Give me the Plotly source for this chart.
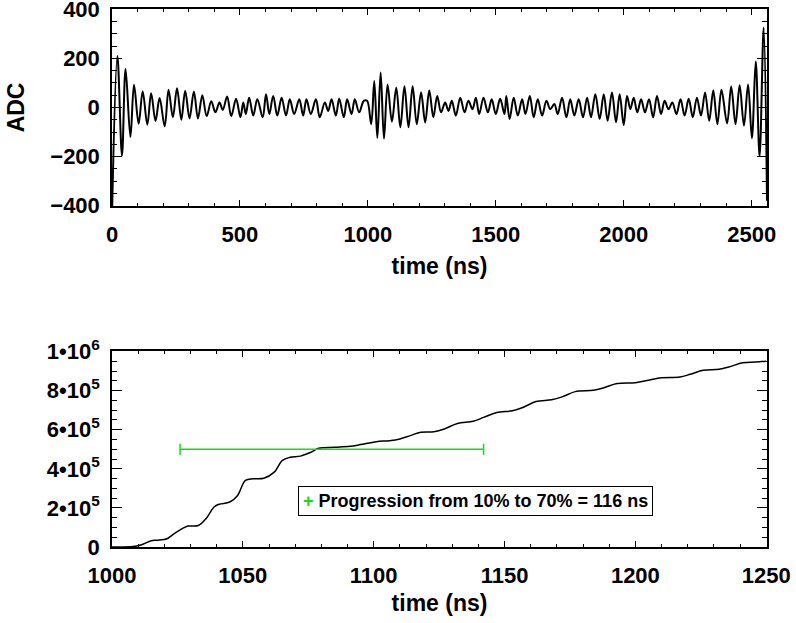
import plotly.graph_objects as go

# ADC waveform, read peak by peak from the top panel (ns, ADC)
wave_t = [0, 21, 39, 53, 72, 86, 104, 120, 138, 153, 170, 186, 206, 221, 238, 254, 271, 286, 303, 320,
          336, 353, 370, 388, 404, 420, 433, 450, 466, 485, 502, 513, 523, 536, 552, 568, 589, 602, 615, 630,
          646, 663, 680, 695, 712, 732, 747, 760, 777, 797, 812, 832, 845, 858, 875, 888, 906, 919, 936, 949,
          966, 984, 997, 1013, 1025, 1037, 1050, 1063, 1077, 1094, 1111, 1127, 1143, 1159, 1175, 1191, 1208, 1224, 1240, 1256,
          1271, 1286, 1302, 1315, 1328, 1344, 1361, 1378, 1393, 1409, 1422, 1435, 1452, 1469, 1484, 1500, 1517, 1534, 1541, 1554,
          1570, 1586, 1603, 1616, 1633, 1648, 1664, 1681, 1698, 1713, 1729, 1742, 1759, 1776, 1791, 1807, 1824, 1841, 1857, 1872,
          1889, 1906, 1922, 1937, 1954, 1970, 1984, 2000, 2013, 2026, 2039, 2053, 2068, 2083, 2099, 2115, 2130, 2146, 2160, 2175,
          2190, 2206, 2222, 2238, 2254, 2270, 2286, 2302, 2318, 2334, 2350, 2366, 2382, 2404, 2420, 2437, 2453, 2470, 2486, 2501,
          2516, 2531, 2547, 2560]
wave_adc = [-440, 210, -196, 157, -120, 92, -66, 65, -70, 58, -55, 38, -77, 72, -40, 78, -50, 68, -45, 65,
            -45, 50, -35, 25, -20, 20, -10, 45, -35, 35, -40, 20, -27, 40, -33, 33, -40, 54, -27, 47,
            -33, 40, -33, 33, -27, 33, -33, 33, -27, 33, -40, 20, -14, 33, -33, 35, -40, 33, -27, 33,
            -20, 27, 27, -68, 108, -124, 142, -127, 94, -58, 80, -81, 86, -81, 86, -68, 61, -61, 69, -40,
            47, -20, 20, -14, 27, -33, 40, -20, 27, -7, 40, -27, 40, -20, 33, -27, 35, -27, 47, -47,
            40, -33, 33, -27, 47, -40, 33, -33, 27, -7, 14, -27, 40, -40, 33, -33, 33, -40, 40, -40,
            54, -47, 54, -54, 61, -61, 54, -72, 47, -7, 40, -20, 33, -20, 33, -40, 47, -27, 27, -7,
            20, -27, 33, -33, 35, -40, 40, -33, 61, -54, 69, -68, 72, -65, 85, -68, 90, -74, 94, -125,
            187, -199, 325, -380]

# cumulative signal (ns, integrated ADC)
cum_t = [1000, 1008, 1011, 1015, 1017, 1021, 1023, 1027, 1029, 1033, 1036, 1039, 1041, 1045, 1048, 1051,
         1054, 1058, 1062, 1065, 1068, 1072, 1076, 1079, 1085, 1091, 1095, 1101, 1106, 1110, 1114, 1118,
         1123, 1127, 1132, 1138, 1142, 1147, 1153, 1157, 1162, 1168, 1172, 1177, 1184, 1188, 1193, 1200,
         1205, 1210, 1217, 1221, 1226, 1232, 1236, 1241, 1246, 1250]
cum_val = [0, 2000, 10000, 32000, 35000, 42000, 61000, 95000, 107000, 110000, 146000, 205000, 219000, 230000, 264000, 341000,
           349000, 352000, 383000, 442000, 459000, 465000, 485000, 505000, 510000, 515000, 524000, 539000, 544000, 553000, 570000, 587000,
           590000, 604000, 632000, 643000, 663000, 688000, 697000, 714000, 744000, 753000, 768000, 795000, 802000, 815000, 836000, 841000,
           853000, 866000, 870000, 884000, 904000, 909000, 922000, 943000, 946000, 951000]

# 10% -> 70% progression marker
rise_start, rise_end, rise_level = 1026, 1142, 5e5
rise_label = "Progression from 10% to 70% = 116 ns"

top_xticks = [0, 500, 1000, 1500, 2000, 2500]
top_yticks = [-400, -200, 0, 200, 400]
bot_xticks = [1000, 1050, 1100, 1150, 1200, 1250]
bot_yticks = [0, 2e5, 4e5, 6e5, 8e5, 1e6]
bot_ytext = ["0", "2•10<sup>5</sup>", "4•10<sup>5</sup>", "6•10<sup>5</sup>", "8•10<sup>5</sup>", "1•10<sup>6</sup>"]

FONT = "Liberation Sans, Arial, sans-serif"
GREEN = "#10e010"

fig = go.Figure()

fig.add_trace(go.Scatter(x=wave_t, y=wave_adc, mode="lines", line=dict(color="black", width=2, shape="spline"),
                         xaxis="x", yaxis="y", showlegend=False))
fig.add_trace(go.Scatter(x=cum_t, y=cum_val, mode="lines", line=dict(color="black", width=1.5, shape="spline"),
                         xaxis="x2", yaxis="y2", showlegend=False))
fig.add_trace(go.Scatter(x=[rise_start, rise_end], y=[rise_level, rise_level], mode="lines+markers",
                         line=dict(color=GREEN, width=1.5),
                         marker=dict(symbol="line-ns", size=8, line=dict(color=GREEN, width=1.5)),
                         xaxis="x2", yaxis="y2", showlegend=False))

axis_common = dict(showline=True, linecolor="black", linewidth=1.5, mirror="allticks", ticks="inside",
                   tickcolor="black", showgrid=False, zeroline=False, automargin=False,
                   ticklabeloverflow="allow",
                   tickfont=dict(family=FONT, size=22, color="black", weight="bold"))

fig.update_layout(
    width=796, height=623,
    margin=dict(l=112, r=29, t=9, b=76),
    plot_bgcolor="white", paper_bgcolor="white",
    font=dict(family=FONT, size=22, color="black", weight="bold"),
    xaxis=dict(domain=[0, 1], anchor="y", range=[0, 2560], tickvals=top_xticks, ticklen=6,
               minor=dict(dtick=100, ticklen=3, ticks="inside", tickcolor="black"),
               ticklabelstandoff=8,
               title=dict(text="time (ns)", standoff=12, font=dict(family=FONT, size=23, weight="bold")),
               **axis_common),
    yaxis=dict(domain=[0.634, 1], anchor="x", range=[-401, 401], tickvals=top_yticks, ticklen=10,
               minor=dict(dtick=50, ticklen=5, ticks="inside", tickcolor="black"),
               ticklabelstandoff=6,
               title=dict(text="ADC", standoff=19, font=dict(family=FONT, size=23, weight="bold")),
               **axis_common),
    xaxis2=dict(domain=[0, 1], anchor="y2", range=[1000, 1250.3], tickvals=bot_xticks, ticklen=6,
                minor=dict(dtick=10, ticklen=3, ticks="inside", tickcolor="black"),
                ticklabelstandoff=8,
                title=dict(text="time (ns)", standoff=8, font=dict(family=FONT, size=23, weight="bold")),
                **axis_common),
    yaxis2=dict(domain=[0, 0.364], anchor="x2", range=[0, 1.002e6], tickvals=bot_yticks, ticktext=bot_ytext,
                ticklen=10, minor=dict(dtick=5e4, ticklen=5, ticks="inside", tickcolor="black"),
                ticklabelstandoff=6,
                **axis_common),
)

fig.add_annotation(x=1139, y=234000, xref="x2", yref="y2", showarrow=False,
                   text=f"<span style='color:{GREEN}'>+</span> {rise_label}",
                   font=dict(family=FONT, size=18, color="black", weight="bold"),
                   bordercolor="black", borderwidth=1, borderpad=4, bgcolor="white")

# drop the browser's default body margin so the figure sits at the page corner
fig.write_html("out.html", config={"displayModeBar": False},
               post_script="document.body.style.margin = '0';")
